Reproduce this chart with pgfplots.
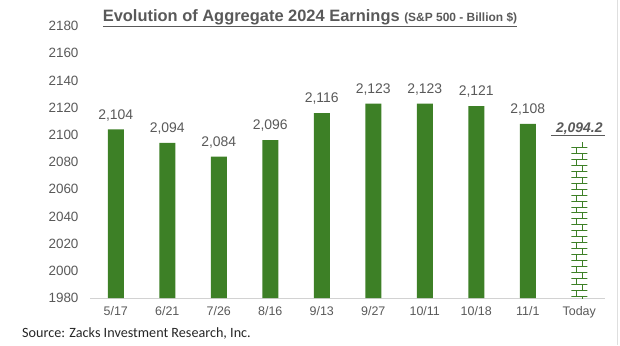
\documentclass[border=0pt]{standalone}
\usepackage{pgfplots}
\pgfplotsset{compat=1.18}
\usepackage{fontspec}
\setmainfont{Liberation Sans}
\newfontfamily\calibri{Carlito}
\usetikzlibrary{patterns}
\definecolor{bargreen}{RGB}{61,128,38}
\definecolor{txtgray}{RGB}{89,89,89}
\pgfdeclarepatternformonly{mybricks}{\pgfpoint{-1pt}{-1pt}}{\pgfpoint{13pt}{13pt}}{\pgfpoint{12pt}{12pt}}{%
  \pgfsetlinewidth{1pt}%
  \pgfpathmoveto{\pgfpoint{0pt}{0.5pt}}\pgfpathlineto{\pgfpoint{12pt}{0.5pt}}%
  \pgfpathmoveto{\pgfpoint{0pt}{6.5pt}}\pgfpathlineto{\pgfpoint{12pt}{6.5pt}}%
  \pgfpathmoveto{\pgfpoint{3pt}{0.5pt}}\pgfpathlineto{\pgfpoint{3pt}{6.5pt}}%
  \pgfpathmoveto{\pgfpoint{9pt}{6.5pt}}\pgfpathlineto{\pgfpoint{9pt}{12.5pt}}%
  \pgfusepath{stroke}}
\begin{document}
\begin{tikzpicture}[x=1bp,y=1bp]
\path[use as bounding box] (0,0) rectangle (620,345);
\draw[gray!25] (617,0) -- (617,345);
\begin{axis}[
  at={(90bp,47bp)}, anchor=south west,
  scale only axis, width=515bp, height=272bp,
  xmin=-0.5, xmax=9.5, ymin=1980, ymax=2180,
  ytick={1980,2000,...,2180},
  xtick={0,...,9},
  xticklabels={5/17,6/21,7/26,8/16,9/13,9/27,10/11,10/18,11/1,Today},
  axis x line*=bottom, axis y line*=left,
  y axis line style={draw=none},
  x axis line style={draw=gray!35, line width=0.8pt},
  major tick length=0pt,
  ticklabel style={text=txtgray},
  yticklabel style={font=\fontsize{13.5}{15}\selectfont, xshift=-8bp},
  xticklabel style={font=\fontsize{12.5}{14}\selectfont, yshift=-5bp},
  /pgf/number format/assume math mode=true,
  /pgf/number format/1000 sep={},
  ybar, bar shift=0pt,
  clip=false,
]
\addplot[fill=bargreen, draw=none, bar width=16bp,
  nodes near coords={\pgfmathprintnumber[1000 sep={,}]{\pgfplotspointmeta}},
  every node near coord/.append style={font=\fontsize{14}{16}\selectfont, text=txtgray, yshift=5bp}]
  coordinates {(0,2104) (1,2094) (2,2084) (3,2096) (4,2116) (5,2123) (6,2123) (7,2121) (8,2108)};
\addplot[pattern=mybricks, pattern color=bargreen, draw=none, bar width=16bp]
  coordinates {(9,2094.2)};
\node[anchor=south, font=\fontsize{14}{16}\selectfont\bfseries\itshape, text=txtgray, inner sep=1bp, yshift=7bp] (tl) at (axis cs:9,2094.2) {2,094.2};
\draw[txtgray, line width=0.8pt] ([xshift=-4bp]tl.south west) -- ([xshift=1bp]tl.south east);
\end{axis}
\node[text=txtgray, font=\bfseries] at (310,327) {\underline{\fontsize{16.5}{18}\selectfont Evolution of Aggregate 2024 Earnings \fontsize{12}{14}\selectfont(S\&P 500 - Billion \$)}};
\node[anchor=west, font=\calibri\fontsize{14.2}{16}\selectfont, text=black!85, inner sep=0pt] at (22,12) {Source: Zacks Investment Research, Inc.};
\end{tikzpicture}
\end{document}
